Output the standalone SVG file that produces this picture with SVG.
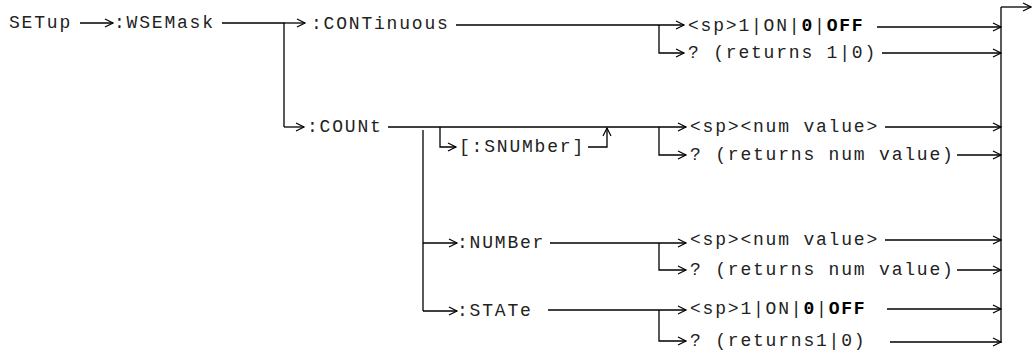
<svg xmlns="http://www.w3.org/2000/svg" width="1032" height="352" viewBox="0 0 1032 352">
<style>
text{font-family:"Liberation Mono","Courier New",monospace;font-size:18px;letter-spacing:1.8px;fill:#222}
.b{font-weight:bold;fill:#000}
.c{fill:none;stroke:#000;stroke-width:1.3}
.a{marker-end:url(#arr)}
</style>
<defs>
<marker id="arr" markerUnits="userSpaceOnUse" markerWidth="12" markerHeight="12" refX="9" refY="5" orient="auto" viewBox="0 0 12 12">
<path d="M1,1 L9,5 L1,9" fill="none" stroke="#000" stroke-width="1.2"/>
</marker>
</defs>
<rect width="1032" height="352" fill="#fff"/>
<g id="connectors">
<path class="c a" d="M80,23 H113"/>
<path class="c" d="M222,23 H284 V127"/>
<path class="c a" d="M284,23 H305"/>
<path class="c a" d="M284,127 H304"/>
<path class="c a" d="M456,25 H684"/>
<path class="c a" d="M659,25 V53 H684"/>
<path class="c a" d="M877,27 H1001"/>
<path class="c a" d="M882,53 H1001"/>
<path class="c" d="M1001,343 V7"/>
<path class="c a" d="M1001,7 H1031"/>
<path class="c a" d="M388,127 H686"/>
<path class="c a" d="M440,127 V147 H456"/>
<path class="c a" d="M588,147 H607 V128"/>
<path class="c a" d="M659,127 V155 H686"/>
<path class="c a" d="M885,127 H1001"/>
<path class="c a" d="M957,155 H1001"/>
<path class="c" d="M423,130 V311"/>
<path class="c a" d="M423,243 H457"/>
<path class="c a" d="M423,311 H457"/>
<path class="c a" d="M550,243 H686"/>
<path class="c a" d="M659,243 V270 H686"/>
<path class="c a" d="M885,240 H1001"/>
<path class="c a" d="M957,270 H1001"/>
<path class="c a" d="M548,310 H686"/>
<path class="c a" d="M659,310 V341 H686"/>
<path class="c a" d="M887,309 H1001"/>
<path class="c a" d="M890,342 H1001"/>
</g>
<g id="n-setup"><text x="9" y="28">SETup</text></g>
<g id="n-wsemask"><text x="114" y="28">:WSEMask</text></g>
<g id="n-continuous"><text x="311" y="29">:CONTinuous</text></g>
<g id="n-cont-set"><text x="688" y="31">&lt;sp&gt;1|ON|<tspan class="b">0</tspan>|<tspan class="b">OFF</tspan></text></g>
<g id="n-cont-query"><text x="688" y="58">? (returns 1|0)</text></g>
<g id="n-count"><text x="307" y="132">:COUNt</text></g>
<g id="n-snumber"><text x="459" y="152">[:SNUMber]</text></g>
<g id="n-count-set"><text x="690" y="132">&lt;sp&gt;&lt;num value&gt;</text></g>
<g id="n-count-query"><text x="690" y="160">? (returns num value)</text></g>
<g id="n-number"><text x="457" y="248">:NUMBer</text></g>
<g id="n-number-set"><text x="690" y="245">&lt;sp&gt;&lt;num value&gt;</text></g>
<g id="n-number-query"><text x="690" y="275">? (returns num value)</text></g>
<g id="n-state"><text x="457" y="316">:STATe</text></g>
<g id="n-state-set"><text x="690" y="314">&lt;sp&gt;1|ON|<tspan class="b">0</tspan>|<tspan class="b">OFF</tspan></text></g>
<g id="n-state-query"><text x="690" y="346">? (returns1|0)</text></g>
</svg>
